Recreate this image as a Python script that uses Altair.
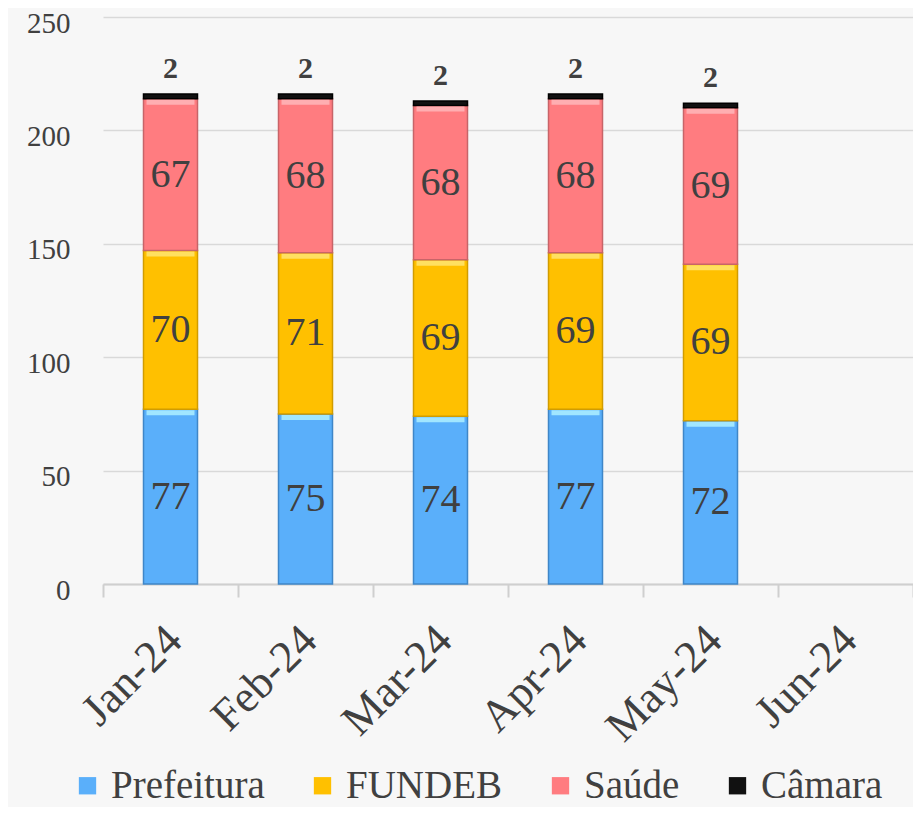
import altair as alt
import pandas as pd

months = ["Jan-24", "Feb-24", "Mar-24", "Apr-24", "May-24", "Jun-24"]
series = ["Prefeitura", "FUNDEB", "Saúde", "Câmara"]
prefeitura = [77, 75, 74, 77, 72]
fundeb = [70, 71, 69, 69, 69]
saude = [67, 68, 68, 68, 69]
camara = [2, 2, 2, 2, 2]

fills = ["#5aaffa", "#ffc000", "#ff7c80", "#111111"]
strokes = ["#3f86c8", "#d19c00", "#c86468", "#000000"]
highlights = ["#a8ecff", "#ffe36a", "#ffb4b6", "#111111"]

rows = []
for s_i, (name, vals) in enumerate(zip(series, [prefeitura, fundeb, saude, camara])):
    for m, v in zip(months, vals):
        rows.append({"month": m, "series": name, "value": v, "order": s_i})
df = pd.DataFrame(rows)

FONT = "Liberation Serif"
TXT = "#404040"

base = alt.Chart(df).transform_stack(
    stack="value", groupby=["month"], sort=[alt.SortField("order", order="ascending")],
    as_=["y0", "y1"]
).transform_calculate(mid="(datum.y0 + datum.y1) / 2")

xenc = alt.X(
    "month:N",
    scale=alt.Scale(domain=months, paddingInner=0, paddingOuter=0),
    axis=alt.Axis(
        title=None, labelAngle=-45, labelFont=FONT, labelFontSize=45, labelColor=TXT,
        labelPadding=20, labelOffset=-12, tickBand="extent", ticks=True, tickSize=13,
        tickColor="#cfcfcf", tickWidth=2, domainColor="#cfcfcf", domainWidth=2, grid=False,
    ),
)
xplain = alt.X("month:N", scale=alt.Scale(domain=months))

bars = base.mark_bar(size=54, strokeWidth=1.5).encode(
    x=xenc,
    y=alt.Y(
        "y0:Q",
        scale=alt.Scale(domain=[0, 250], nice=False),
        axis=alt.Axis(
            title=None, values=[0, 50, 100, 150, 200, 250], labelFont=FONT,
            labelFontSize=29, labelColor=TXT, labelPadding=33, labelOffset=6, ticks=False,
            domain=False, gridColor="#d9d9d9", gridWidth=1.5,
        ),
    ),
    y2="y1:Q",
    color=alt.Color(
        "series:N",
        scale=alt.Scale(domain=series, range=fills),
        sort=series,
        legend=alt.Legend(
            title=None, orient="none", direction="horizontal", legendX=-35, legendY=749,
            labelFont=FONT, labelFontSize=39, labelColor=TXT, labelLimit=400,
            symbolType="square", symbolSize=300, symbolStrokeWidth=1, labelOffset=4,
            columnPadding=38, columns=4, padding=0,
        ),
    ),
    stroke=alt.Stroke("series:N", scale=alt.Scale(domain=series, range=strokes), legend=None),
    order=alt.Order("order:Q"),
)

shine = base.transform_filter(alt.datum.series != "Câmara").mark_tick(
    thickness=5, size=48, yOffset=3.5, opacity=0.9
).encode(
    x=xplain, y="y1:Q",
    color=alt.Color("series:N", scale=alt.Scale(domain=series, range=highlights), legend=None),
)

inner = base.transform_filter(alt.datum.series != "Câmara").mark_text(
    font=FONT, fontSize=40, color=TXT, baseline="middle", align="center"
).encode(x=xplain, y="mid:Q", text="value:Q")

top = base.transform_filter(alt.datum.series == "Câmara").mark_text(
    font=FONT, fontSize=30, fontWeight="bold", color=TXT, baseline="bottom",
    align="center", dy=-10
).encode(x=xplain, y="y1:Q", text="value:Q")

chart = alt.layer(bars, shine, inner, top).resolve_scale(color="independent").properties(
    width=810, height=567,
    autosize=alt.AutoSizeParams(type="none"),
    padding={"left": 95, "top": 9, "right": 0, "bottom": 223},
    background="#f7f7f7",
).configure_view(stroke=None)

chart.save("out.html", embed_options={"renderer": "svg", "actions": False})
